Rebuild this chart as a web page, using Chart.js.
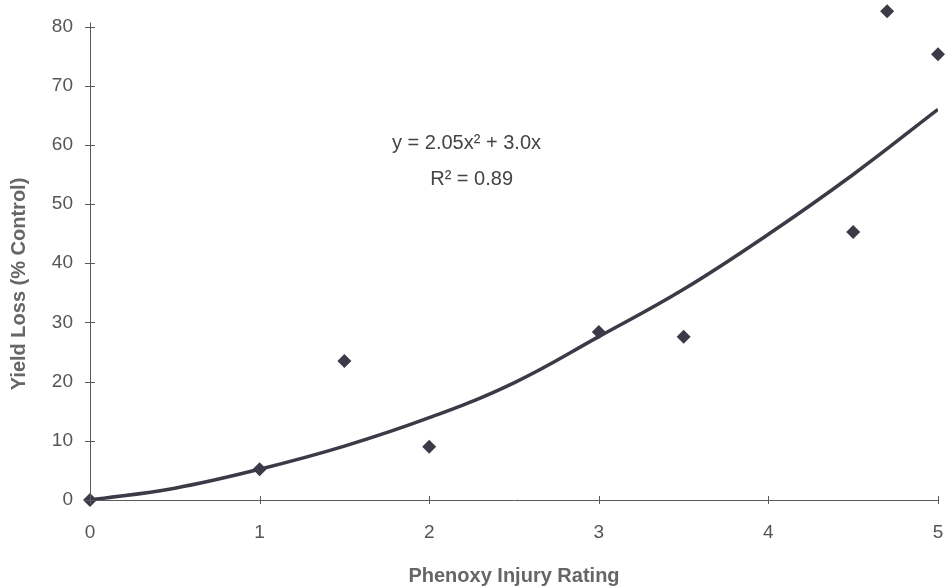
<!DOCTYPE html>
<html>
<head>
<meta charset="utf-8">
<script src="https://cdn.jsdelivr.net/npm/chart.js@4/dist/chart.umd.min.js"></script>
<style>
  html, body { margin: 0; padding: 0; background: #fff; }
  #wrap { width: 945px; height: 588px; }
</style>
</head>
<body>
<div id="wrap"><canvas id="yieldChart" width="945" height="588"></canvas></div>
<script>
// observed points
const ratings = [0, 1, 1.5, 2, 3, 3.5, 4.5, 4.7, 5]
const yieldLoss = [0, 5.2, 23.5, 9.0, 28.4, 27.6, 45.3, 82.6, 75.3]

// fitted curve
const curveX = [0, 0.5, 1, 1.5, 2, 2.5, 3, 3.5, 4, 4.5, 5]
const curveY = [0, 2.0, 5.2, 9.1, 13.9, 19.8, 27.6, 35.6, 44.9, 55.0, 66.0]

const xTicks = [0, 1, 2, 3, 4, 5]
const yTicks = [0, 10, 20, 30, 40, 50, 60, 70, 80]

const equation = 'y = 2.05x\u00B2 + 3.0x'
const rSquared = 'R\u00B2 = 0.89'
const yTitle = 'Yield Loss (% Control)'

const ink = '#3a3b47'
const axisGrey = '#5a5a5a'
const textGrey = '#555'
const fontFamily = '"Liberation Sans", Arial, sans-serif'

const toPoints = (xs, ys) => xs.map((x, i) => ({x: x, y: ys[i]}))

// y axis line, and ticks that cross both axis lines
const crossTicks = {
  id: 'crossTicks',
  afterDraw(chart) {
    const {ctx, chartArea, scales} = chart
    ctx.save()
    ctx.strokeStyle = axisGrey
    ctx.lineWidth = 1
    const ax = Math.round(chartArea.left) + 0.5
    ctx.beginPath()
    ctx.moveTo(ax, scales.y.getPixelForValue(0))
    ctx.lineTo(ax, scales.y.getPixelForValue(80) - 4)
    ctx.stroke()
    yTicks.forEach(v => {
      const py = Math.round(scales.y.getPixelForValue(v)) + 0.5
      ctx.beginPath()
      ctx.moveTo(chartArea.left - 5, py)
      ctx.lineTo(chartArea.left + 5, py)
      ctx.stroke()
    })
    xTicks.forEach(v => {
      const px = Math.round(scales.x.getPixelForValue(v)) + 0.5
      ctx.beginPath()
      ctx.moveTo(px, chartArea.bottom - 4)
      ctx.lineTo(px, chartArea.bottom + 4)
      ctx.stroke()
    })
    ctx.restore()
  }
}

const fitLabel = {
  id: 'fitLabel',
  afterDraw(chart) {
    const {ctx, scales} = chart
    ctx.save()
    ctx.fillStyle = '#444'
    ctx.font = '20px ' + fontFamily
    ctx.textAlign = 'center'
    ctx.textBaseline = 'middle'
    ctx.fillText(equation, scales.x.getPixelForValue(2.22), scales.y.getPixelForValue(60.2))
    ctx.fillText(rSquared, scales.x.getPixelForValue(2.25), scales.y.getPixelForValue(54.1))

    // y title, placed like the original rather than centred on the axis
    ctx.fillStyle = '#666'
    ctx.font = 'bold 20px ' + fontFamily
    ctx.translate(19, scales.y.getPixelForValue(36.5))
    ctx.rotate(-Math.PI / 2)
    ctx.fillText(yTitle, 0, 0)
    ctx.restore()
  }
}

const ctx = document.querySelector('#yieldChart')
const yieldChart = new Chart(ctx, {
  type: 'scatter',
  data: {
    datasets: [
      {
        label: 'Fit',
        data: toPoints(curveX, curveY),
        showLine: true,
        borderColor: ink,
        borderWidth: 3.5,
        pointRadius: 0,
        tension: 0.4,
        order: 2
      },
      {
        label: 'Yield loss',
        data: toPoints(ratings, yieldLoss),
        pointStyle: 'rectRot',
        pointRadius: 7,
        backgroundColor: ink,
        borderColor: ink,
        borderWidth: 0,
        clip: false,
        order: 1
      }
    ]
  },
  options: {
    responsive: false,
    animation: false,
    layout: {padding: {top: 2, right: 5, left: 0, bottom: 0}},
    plugins: {
      legend: {display: false},
      tooltip: {enabled: false}
    },
    scales: {
      x: {
        type: 'linear',
        min: 0,
        max: 5,
        afterFit: s => { s.height = 88; s.paddingLeft = 0; s.paddingRight = 0 },
        afterBuildTicks: s => { s.ticks = xTicks.map(v => ({value: v})) },
        grid: {display: false, drawTicks: false},
        border: {display: true, color: axisGrey, width: 1},
        ticks: {
          color: textGrey,
          padding: 21,
          maxRotation: 0,
          font: {family: fontFamily, size: 19}
        },
        title: {
          display: true,
          text: 'Phenoxy Injury Rating',
          color: '#666',
          padding: {top: 6, bottom: 0},
          font: {family: fontFamily, size: 20, weight: 'bold'}
        }
      },
      y: {
        type: 'linear',
        min: 0,
        max: 83.3,
        afterFit: s => { s.width = 90; s.paddingTop = 0; s.paddingBottom = 0 },
        afterBuildTicks: s => { s.ticks = yTicks.map(v => ({value: v})) },
        grid: {display: false, drawTicks: false},
        border: {display: false},
        ticks: {
          color: textGrey,
          padding: 17,
          font: {family: fontFamily, size: 19}
        }
      }
    }
  },
  plugins: [crossTicks, fitLabel]
})
</script>
</body>
</html>
